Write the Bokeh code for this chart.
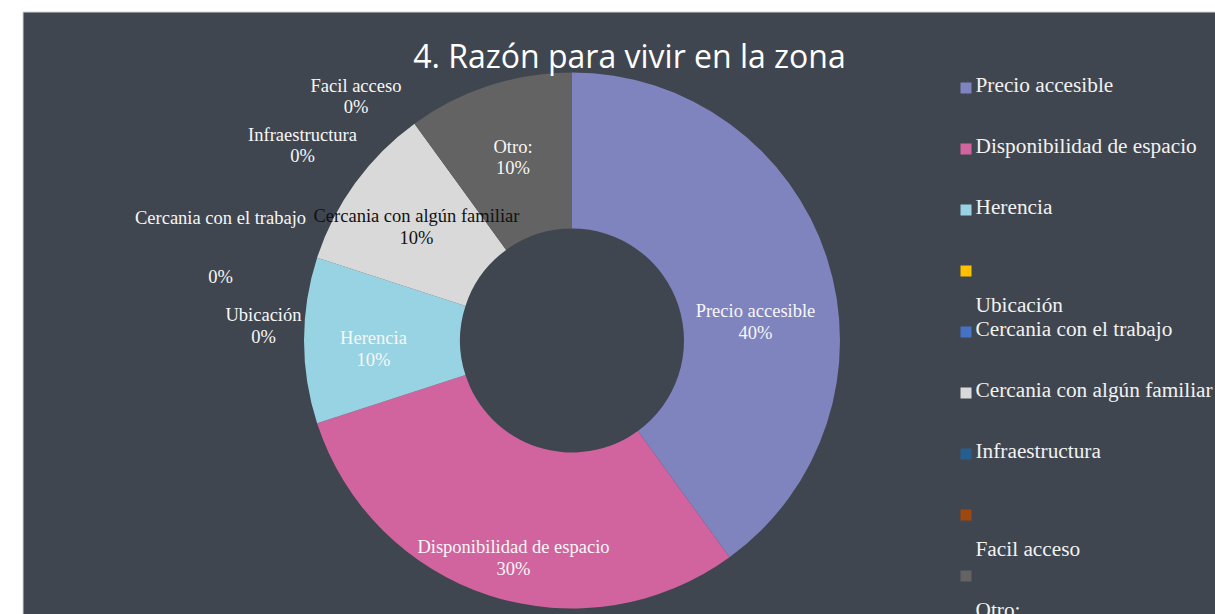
import math
from bokeh.plotting import figure
from bokeh.models import Range1d, ColumnDataSource
from bokeh.core.properties import value
from bokeh.embed import file_html
from bokeh.resources import INLINE

# ---------------- data ----------------
title_text = "4. Razón para vivir en la zona"
categories = ["Precio accesible", "Disponibilidad de espacio", "Herencia", "Ubicación",
              "Cercania con el trabajo", "Cercania con algún familiar", "Infraestructura",
              "Facil acceso", "Otro:"]
values = [40, 30, 10, 0, 0, 10, 0, 0, 10]
colors = ["#7F83BE", "#D1649F", "#97D3E2", "#FFC000", "#4472C4",
          "#D9D9D9", "#255E91", "#9E480E", "#636363"]

# ---------------- layout (image pixel coordinates) ----------------
W, H = 1215, 614
BG = "#40464F"
cx, cy_img = 571.5, 340
r_out, r_in = 268, 112
def Y(iy):
    return H - iy

# data label anchors: x, name baseline, percent baseline (image coords)
LBL_SHIFT = 7
label_pos = [(755, 317, 339), (513, 553, 575), (373, 344, 366), (263, 321, 343),
             (220, 224, 283), (416, 222, 244), (302, 141, 162), (355.5, 92, 113),
             (512.5, 153, 174)]
label_colors = ["#F7F7F7"] * 9
label_colors[5] = "#111111"

p = figure(width=W, height=H, output_backend="svg", toolbar_location=None,
           x_range=Range1d(0, W), y_range=Range1d(0, H),
           x_axis_location=None, y_axis_location=None,
           min_border=0, min_border_left=0, min_border_right=0,
           min_border_top=0, min_border_bottom=0,
           background_fill_color="white", border_fill_color="white",
           outline_line_color=None, tools="")
p.grid.visible = False

# chart area background
p.quad(left=[22.5], right=[W + 2], bottom=[-2], top=[Y(11.5)],
       fill_color=BG, line_color="#D4D4D4", line_width=1)

# donut
total = sum(values)
starts, ends, cols = [], [], []
cum = 0
for v, c in zip(values, colors):
    if v > 0:
        starts.append(math.pi / 2 - 2 * math.pi * cum / total)
        ends.append(math.pi / 2 - 2 * math.pi * (cum + v) / total)
        cols.append(c)
    cum += v
src = ColumnDataSource(dict(x=[cx] * len(starts), y=[Y(cy_img)] * len(starts),
                            s=starts, e=ends, c=cols))
p.annular_wedge(x="x", y="y", inner_radius=r_in, outer_radius=r_out,
                start_angle="s", end_angle="e", direction="clock",
                fill_color="c", line_color=None, source=src)

# data labels
lab = ColumnDataSource(dict(
    x=[lp[0] for lp in label_pos],
    yn=[Y(lp[1] - LBL_SHIFT) for lp in label_pos],
    yp=[Y(lp[2] - LBL_SHIFT) for lp in label_pos],
    name=categories,
    pct=[f"{v}%" for v in values],
    col=label_colors))
for col_y, col_t in (("yn", "name"), ("yp", "pct")):
    p.text(x="x", y=col_y, text=col_t, text_color="col", source=lab,
           text_font=value("Liberation Serif"), text_font_size="18.5px",
           text_align="center", text_baseline="alphabetic")

# title
p.text(x=[629], y=[Y(55)], text=[title_text], text_color="#FFFFFF",
       text_font=value("Open Sans"), text_font_size="32px",
       text_align="center", text_baseline="alphabetic")

# legend (manual, mimicking wrapped entries)
wrapped = [False, False, False, True, False, False, False, True, True]
sq_y = [87.5 + 61 * i for i in range(len(categories))]
text_y = [sy + (42 if w else 5) - 8 for sy, w in zip(sq_y, wrapped)]
p.rect(x=[965.5] * len(categories), y=[Y(s) for s in sq_y], width=11, height=11,
       fill_color=colors, line_color=None)
p.text(x=[975] * len(categories), y=[Y(t) for t in text_y], text=categories,
       text_color="#F2F2F2", text_font=value("Liberation Serif"),
       text_font_size="21.3px", text_align="left", text_baseline="alphabetic")

open("out.html", "w").write(file_html(p, INLINE))
